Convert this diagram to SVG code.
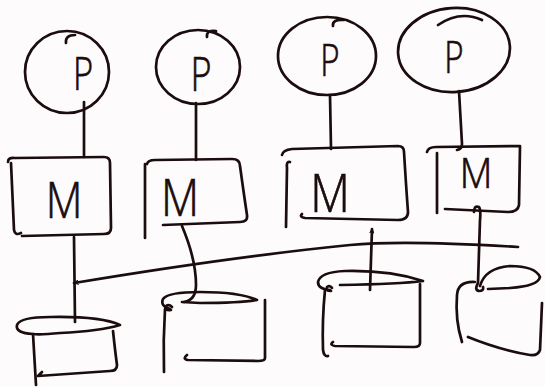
<svg xmlns="http://www.w3.org/2000/svg" width="545" height="387" viewBox="0 0 545 387">
  <style>
    .ink { fill: none; stroke: #1b0c0e; stroke-width: 2.7; stroke-linecap: round; stroke-linejoin: round; }
    .lbl { fill: #1b0c0e; stroke: #1b0c0e; stroke-width: 0.7; font-family: "Open Sans", "Liberation Sans", "DejaVu Sans", sans-serif; font-weight: 300; text-anchor: middle; }
  </style>
  <defs>
    <marker id="head" viewBox="0 0 10 10" refX="9" refY="5" markerWidth="5" markerHeight="5" orient="auto" markerUnits="userSpaceOnUse">
      <path d="M 1 1 L 9 5 L 1 9" fill="none" stroke="#1b0c0e" stroke-width="2.2" stroke-linecap="round"/>
    </marker>
  </defs>
  <rect width="545" height="387" fill="#fdfbfb"/>

  <!-- processors -->
  <g id="proc-1">
    <ellipse class="ink" cx="67" cy="72" rx="42" ry="41"/>
    <path class="ink" d="M 66 43 Q 65 35 75 35"/>
    <text class="lbl" x="0" y="0" font-size="46" transform="translate(83 90) scale(0.75 1)">P</text>
  </g>
  <g id="proc-2">
    <ellipse class="ink" cx="198" cy="67" rx="42" ry="37"/>
    <path class="ink" d="M 207 37 Q 206 30 216 31"/>
    <text class="lbl" x="0" y="0" font-size="48" transform="translate(201 91) scale(0.75 1)">P</text>
  </g>
  <g id="proc-3">
    <ellipse class="ink" cx="327" cy="56" rx="49" ry="39"/>
    <path class="ink" d="M 333 26 Q 332 19 344 20"/>
    <text class="lbl" x="0" y="0" font-size="44" transform="translate(330 76) scale(0.75 1)">P</text>
  </g>
  <g id="proc-4">
    <ellipse class="ink" cx="454" cy="50" rx="56" ry="42" transform="rotate(-4 454 50)"/>
    <path class="ink" d="M 438 25 Q 460 10 482 20"/>
    <text class="lbl" x="0" y="0" font-size="44" transform="translate(454 73) scale(0.75 1)">P</text>
  </g>

  <!-- memories -->
  <g id="mem-1">
    <path class="ink" d="M 8 162 Q 8 157 15 158 L 104 157 Q 110 157 110 163 L 111 228 Q 111 234 104 234 L 22 236"/>
    <path class="ink" d="M 11 163 L 14 230 Q 15 236 21 233"/>
    <text class="lbl" x="0" y="0" font-size="50" transform="translate(64 218) scale(0.85 1)">M</text>
  </g>
  <g id="mem-2">
    <path class="ink" d="M 147 164 Q 148 160 155 160 L 232 159 Q 240 159 240 166 Q 244 195 247 215 Q 248 222 240 222 L 163 225"/>
    <path class="ink" d="M 145 164 L 145 238"/>
    <text class="lbl" x="0" y="0" font-size="52" transform="translate(180 216) scale(0.85 1)">M</text>
  </g>
  <g id="mem-3">
    <path class="ink" d="M 282 155 Q 283 150 292 149 L 398 146 Q 404 146 404 152 Q 406 185 408 212 Q 408 220 398 220 L 305 218 Q 299 217 302 214"/>
    <path class="ink" d="M 290 162 Q 286 161 287 168 L 286 227"/>
    <text class="lbl" x="0" y="0" font-size="54" transform="translate(330 212) scale(0.85 1)">M</text>
  </g>
  <g id="mem-4">
    <path class="ink" d="M 427 152 Q 428 147 436 147 L 520 146 L 519 205 Q 518 212 508 212 L 445 209"/>
    <path class="ink" d="M 437 153 L 437 213"/>
    <text class="lbl" x="0" y="0" font-size="42" transform="translate(476 188) scale(0.9 1)">M</text>
  </g>

  <!-- disks -->
  <g id="disk-1">
    <path class="ink" d="M 33 334 Q 15 333 17 325 Q 20 317 50 317 Q 100 316 120 325 Q 100 331 60 333 Q 40 335 33 334"/>
    <path class="ink" d="M 33 334 L 36 385"/>
    <path class="ink" d="M 113 331 Q 115 350 117 365 Q 117 371 110 371 L 38 376 L 42 372"/>
  </g>
  <g id="disk-2">
    <path class="ink" d="M 170 309 Q 160 306 163 299 Q 168 292 200 292 Q 240 292 257 300 Q 240 303 200 303 L 182 302"/>
    <path class="ink" d="M 171 310 Q 164 311 166 306 Q 169 304 172 307"/>
    <path class="ink" d="M 165 309 Q 163 340 164 372"/>
    <path class="ink" d="M 265 300 L 265 358 Q 265 361 258 361 L 188 360 Q 182 359 187 355"/>
  </g>
  <g id="disk-3">
    <path class="ink" d="M 330 290 Q 318 289 318 282 Q 320 272 345 271 Q 390 270 423 281 Q 400 284 340 285"/>
    <path class="ink" d="M 331 291 Q 325 291 327 287 Q 330 285 332 288"/>
    <path class="ink" d="M 325 290 Q 322 320 323 350 Q 324 357 328 356"/>
    <path class="ink" d="M 420 284 L 420 343 Q 420 347 414 347 L 335 346 Q 329 345 333 342"/>
  </g>
  <g id="disk-4">
    <path class="ink" d="M 480 286 Q 485 268 510 266 Q 535 266 540 277 Q 538 286 510 288 L 488 289"/>
    <path class="ink" d="M 475 282 Q 458 281 457 295 Q 455 320 462 342"/>
    <path class="ink" d="M 468 337 Q 500 350 530 355 Q 538 356 540 350 L 542 303"/>
  </g>

  <!-- connectors -->
  <g id="connectors">
    <path class="ink" d="M 84 102 L 84 157"/>
    <path class="ink" d="M 196 103 L 196 160"/>
    <path class="ink" d="M 330 95 L 331 149"/>
    <path class="ink" d="M 459 91 L 462 144 Q 462 149 457 150"/>
    <path class="ink" d="M 74 237 L 75 322"/>
    <path class="ink" d="M 518 247 C 470 244, 400 240, 350 245 C 300 250, 200 262, 74 283" marker-end="url(#head)"/>
    <path class="ink" d="M 182 226 C 190 245, 196 265, 196 285 Q 196 300 184 302"/>
    <path class="ink" d="M 370 290 L 372 229" marker-end="url(#head)"/>
    <path class="ink" d="M 474 212 Q 474 205 479 207 Q 481 210 480 220 L 478 283 Q 474 290 479 291 Q 484 291 483 287"/>
  </g>
</svg>
